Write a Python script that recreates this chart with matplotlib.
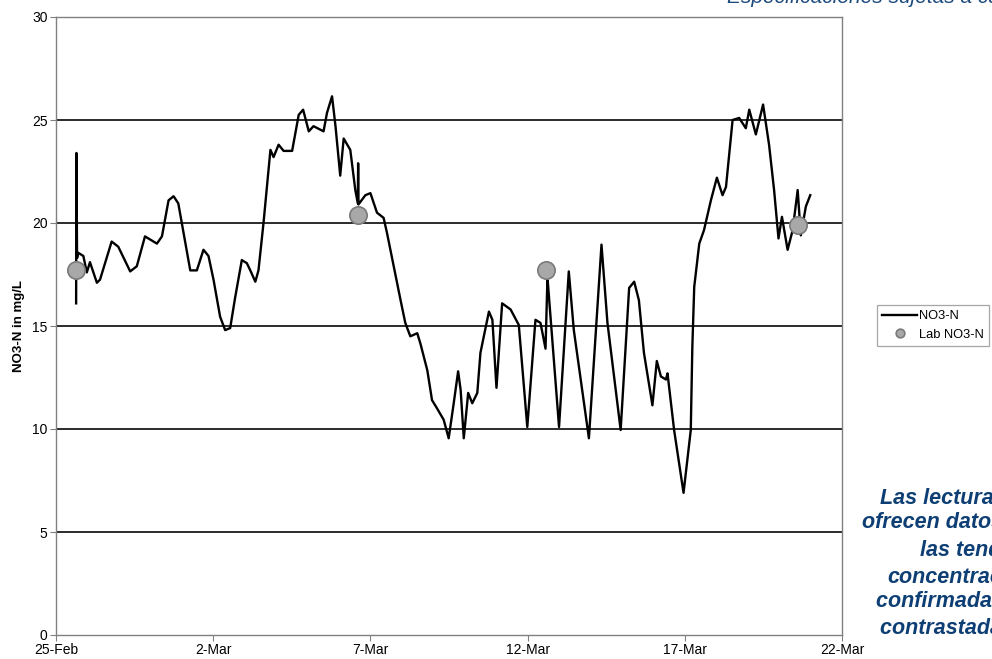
import matplotlib
matplotlib.use("Agg")
import matplotlib.pyplot as plt
import pandas as pd

plt.rcParams['font.family'] = ['Liberation Sans', 'DejaVu Sans']

start = pd.Timestamp('2009-02-25')

# Continuous sensor record: days after 25-Feb and NO3-N (mg/L)
sensor_days = [0.64, 0.65, 0.67, 0.71, 0.87, 0.98, 1.08, 1.30, 1.40, 1.77, 1.98,
               2.36, 2.57, 2.83, 3.21, 3.37, 3.58, 3.74, 3.89, 4.27, 4.48, 4.69,
               4.85, 5.01, 5.22, 5.38, 5.54, 5.70, 5.91, 6.07, 6.18, 6.34, 6.44,
               6.60, 6.82, 6.92, 7.08, 7.24, 7.51, 7.72, 7.86, 8.04, 8.19, 8.51,
               8.62, 8.78, 8.89, 9.04, 9.15, 9.36, 9.52, 9.60, 9.61, 9.62, 9.84,
               10.00, 10.21, 10.42, 10.53, 10.74, 10.96, 11.11, 11.27, 11.49, 11.59,
               11.81, 11.96, 12.12, 12.33, 12.49, 12.65, 12.79, 12.87, 12.97, 13.11,
               13.24, 13.40, 13.50, 13.77, 13.88, 14.01, 14.19, 14.46, 14.72, 14.99,
               15.25, 15.41, 15.57, 15.63, 15.65, 16.00, 16.31, 16.47, 16.69, 16.95,
               17.35, 17.54, 17.96, 18.23, 18.39, 18.54, 18.70, 18.97, 19.11, 19.24,
               19.40, 19.45, 19.66, 19.96, 20.19, 20.24, 20.30, 20.46, 20.61, 20.83,
               21.02, 21.20, 21.31, 21.52, 21.73, 21.94, 22.05, 22.26, 22.49, 22.68,
               22.84, 22.98, 23.09, 23.27, 23.43, 23.59, 23.69, 23.85, 23.99]
sensor_no3 = [16.1, 23.4, 18.3, 18.55, 18.4, 17.6, 18.1, 17.1, 17.25, 19.1, 18.85,
              17.65, 17.9, 19.35, 19.0, 19.35, 21.1, 21.3, 20.95, 17.7, 17.7, 18.7,
              18.4, 17.25, 15.45, 14.8, 14.9, 16.4, 18.2, 18.05, 17.7, 17.15, 17.7,
              20.0, 23.55, 23.2, 23.8, 23.5, 23.5, 25.25, 25.5, 24.45, 24.7, 24.45,
              25.35, 26.15, 24.7, 22.3, 24.1, 23.55, 21.6, 20.95, 22.9, 20.9, 21.35,
              21.45, 20.5, 20.25, 19.5, 17.9, 16.25, 15.15, 14.5, 14.65, 14.15,
              12.85, 11.4, 11.0, 10.45, 9.55, 11.25, 12.8, 11.9, 9.55, 11.75,
              11.25, 11.75, 13.7, 15.7, 15.3, 12.0, 16.1, 15.8, 15.05, 10.1,
              15.3, 15.15, 13.9, 17.25, 17.0, 10.1, 17.65, 14.8, 12.4, 9.55,
              18.95, 15.15, 9.95, 16.85, 17.15, 16.25, 13.7, 11.15, 13.3, 12.55,
              12.4, 12.7, 9.95, 6.9, 9.95, 14.0, 16.9, 19.0, 19.65, 21.1,
              22.2, 21.35, 21.75, 25.0, 25.1, 24.6, 25.5, 24.3, 25.75, 23.8,
              21.6, 19.25, 20.3, 18.7, 19.65, 21.6, 19.4, 20.8, 21.35]

# Laboratory grab samples
lab_days = [0.64, 9.60, 15.60, 23.60]
lab_no3 = [17.7, 20.4, 17.7, 19.9]

y_ticks = [0, 5, 10, 15, 20, 25, 30]
x_tick_labels = ['25-Feb', '2-Mar', '7-Mar', '12-Mar', '17-Mar', '22-Mar']

sensor_t = start + pd.to_timedelta(sensor_days, unit='D')
lab_t = start + pd.to_timedelta(lab_days, unit='D')

fig = plt.figure(figsize=(9.92, 6.59), dpi=100)
ax = fig.add_axes([56 / 992, 1 - 635 / 659, (842 - 56) / 992, (635 - 17) / 659])

for yv in y_ticks[1:-1]:
    ax.axhline(yv, color='#1a1a1a', lw=1.3, zorder=1)

ax.plot(sensor_t, sensor_no3, color='black', lw=1.7, label='NO3-N', zorder=3,
        solid_joinstyle='round')
ax.plot(lab_t, lab_no3, linestyle='none', marker='o', markersize=12.5,
        markerfacecolor='#a8a8a8', markeredgecolor='#7a7a7a', markeredgewidth=1.2,
        label='Lab NO3-N', zorder=4)

ax.set_xlim(start, start + pd.Timedelta(days=25))
ax.set_ylim(0, 30)
ax.set_yticks(y_ticks)
tick_dates = [start + pd.Timedelta(days=5 * i) for i in range(6)]
ax.set_xticks(tick_dates)
ax.set_xticklabels(x_tick_labels)
ax.tick_params(axis='both', labelsize=10, length=4, width=0.8, color='#808080',
               pad=2, direction='out')
for s in ax.spines.values():
    s.set_color('#808080')
    s.set_linewidth(1.0)

ax.set_ylabel('NO3-N in mg/L', fontsize=9.5, fontweight='bold', labelpad=5)

leg = fig.legend(loc='upper left', bbox_to_anchor=(877 / 992, 1 - 305 / 659),
                 fontsize=9.3, frameon=True, fancybox=False, edgecolor='#909090',
                 handlelength=2.7, handletextpad=0.15, borderpad=0.4,
                 borderaxespad=0.0, labelspacing=0.5, markerscale=0.5)
leg.get_frame().set_linewidth(0.9)

blue = '#1c4a7e'
fig.text(727 / 992, 1 - 3 / 659, 'Especificaciones sujetas a cambio sin previo aviso',
         color=blue, fontsize=15, style='italic', ha='left', va='baseline')

note_lines = [
    (880, 498, 'Las lecturas en continuo'),
    (862, 523, 'ofrecen datos fiables sobre'),
    (920, 550, 'las tendencias de'),
    (887, 577, 'concentración,'),
    (876, 602, 'confirmadas y'),
    (880, 628, 'contrastadas en laboratorio.'),
]
for xp, yp, txt in note_lines:
    fig.text(xp / 992, 1 - yp / 659, txt, color='#0e3f74', fontsize=15.5,
             fontweight='bold', style='italic', ha='left', va='center')

fig.savefig('out.png', dpi=100)
